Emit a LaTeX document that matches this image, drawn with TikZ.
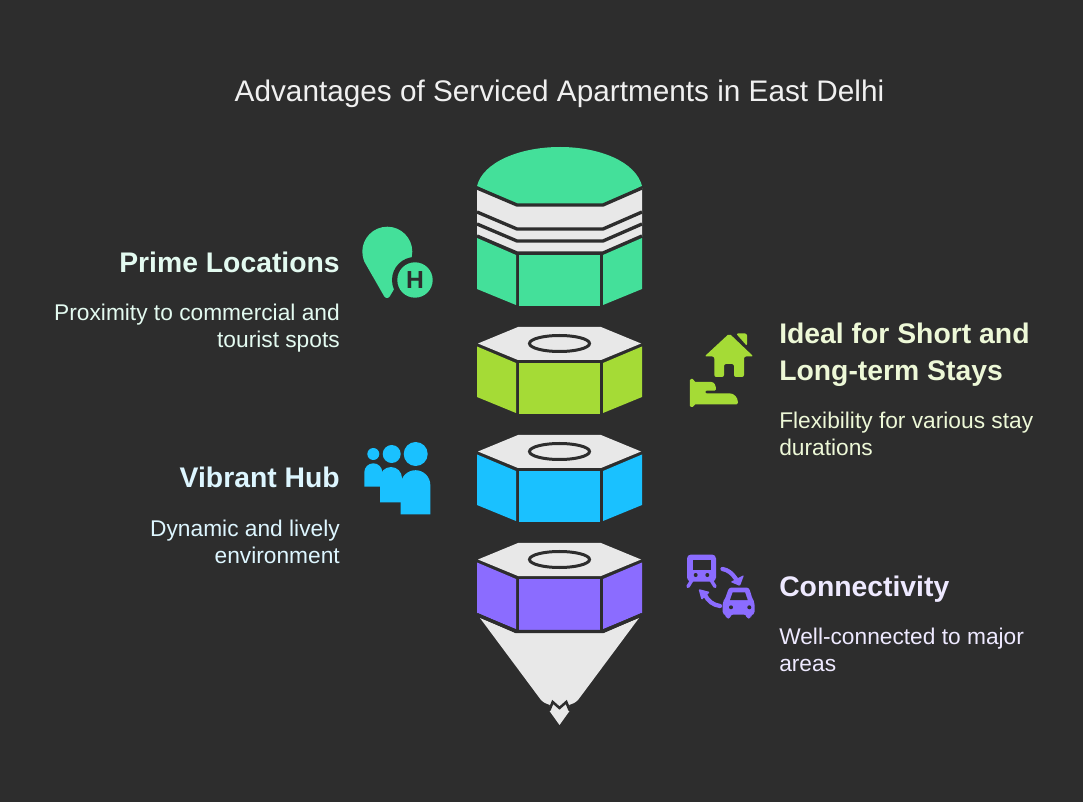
\documentclass[tikz,border=0pt]{standalone}
\usepackage{xcolor}
\usepackage{fontspec}
\setmainfont{Liberation Sans}
\usetikzlibrary{positioning}
\definecolor{slate}{RGB}{45,45,45}
\definecolor{paper}{RGB}{232,232,232}
\definecolor{mint}{RGB}{68,224,154}
\definecolor{lime}{RGB}{165,219,54}
\definecolor{sky}{RGB}{26,193,255}
\definecolor{violet}{RGB}{139,108,255}
\tikzset{
  edge/.style={draw=slate,line width=2.5pt,line join=miter},
  ring/.style={draw=slate,line width=2.25pt},
  titletext/.style={inner sep=0pt,text=white!94!black,font=\fontsize{22.3}{25}\selectfont},
  heading/.style={inner sep=0pt,align=#1,font=\fontsize{21.25}{27.75}\selectfont\bfseries},
  blurb/.style={inner sep=0pt,align=#1,font=\fontsize{17.05}{20.25}\selectfont}
}
\begin{document}
\begin{tikzpicture}[x=0.75pt,y=0.75pt,yscale=-1]
%Shape: Rectangle [background]
\fill [slate] (0,0) rectangle (1083,802);

%Shape: Polygon [dome]
\fill [mint] (477,186) .. controls (483,162) and (520,147) .. (560,147) .. controls (600,147) and (636,162) .. (642,186) -- (603,205) -- (517,205) -- cycle ;
%Shape: Polygon [bands]
\fill [paper] (477,188) -- (517,205) -- (603,205) -- (642,188) -- (642,237) -- (603,253) -- (517,253) -- (477,237) -- cycle ;
\draw [edge] (477,188) -- (517,205) -- (603,205) -- (642,188) ;
\draw [edge] (477,212) -- (517,229) -- (603,229) -- (642,212) ;
\draw [edge] (477,224) -- (517,241) -- (603,241) -- (642,224) ;
\draw [edge] (477,236) -- (517,253) -- (603,253) -- (642,236) ;
%Shape: Polygon [first body]
\fill [mint] (477,238) -- (516,255) -- (516,305) -- (477,289) -- cycle ;
\fill [mint] (519,255) rectangle (600,306) ;
\fill [mint] (642,238) -- (603,255) -- (603,305) -- (642,289) -- cycle ;

%Shape: Polygon [second nut]
\fill [paper] (518,327) -- (601,327) -- (641,343.5) -- (601,360) -- (518,360) -- (478,343.5) -- cycle ;
\draw [ring] (559.5,343.5) ellipse (30 and 8) ;
\fill [lime] (477,346.5) -- (516,363) -- (516,413) -- (477,397) -- cycle ;
\fill [lime] (519,363) rectangle (600,414) ;
\fill [lime] (642,346.5) -- (603,363) -- (603,413) -- (642,397) -- cycle ;

%Shape: Polygon [third nut]
\fill [paper] (518,435) -- (601,435) -- (641,451.5) -- (601,468) -- (518,468) -- (478,451.5) -- cycle ;
\draw [ring] (559.5,451.5) ellipse (30 and 8) ;
\fill [sky] (477,454.5) -- (516,471) -- (516,521) -- (477,505) -- cycle ;
\fill [sky] (519,471) rectangle (600,522) ;
\fill [sky] (642,454.5) -- (603,471) -- (603,521) -- (642,505) -- cycle ;

%Shape: Polygon [tip]
\fill [paper] (480,618) -- (516,633) -- (603,633) -- (639,618) -- (578,700) .. controls (575,703) and (572,704) .. (569,705) -- (569.5,711) -- (559.5,725) -- (549.5,711) -- (550,705) .. controls (547,704) and (544,703) .. (541,700) -- cycle ;
\draw [edge,line width=1.9pt,line cap=round] (549.5,710) -- (552.7,702) -- (559.5,708) -- (566.3,702) -- (569.5,710) ;
%Shape: Polygon [fourth nut]
\fill [paper] (518,543) -- (601,543) -- (641,559.5) -- (601,576) -- (518,576) -- (478,559.5) -- cycle ;
\draw [ring] (559.5,559.5) ellipse (30 and 8) ;
\fill [violet] (477,562.5) -- (516,579) -- (516,629) -- (477,613) -- cycle ;
\fill [violet] (519,579) rectangle (600,630) ;
\fill [violet] (642,562.5) -- (603,579) -- (603,629) -- (642,613) -- cycle ;
\draw [edge] (477,614.5) -- (516,631.5) -- (603,631.5) -- (642,614.5) ;

%Shape: pin icon
\fill [mint] (387,298) .. controls (385.5,298) and (385,297.5) .. (384,296) -- (364.5,262) .. controls (363,258) and (362.3,255) .. (362.3,251.7) arc (180:360:25) .. controls (412.3,255) and (411.6,258) .. (410,262) -- (390,296) .. controls (389,297.5) and (388.5,298) .. (387,298) -- cycle ;
\fill [slate] (415,280) circle (23) ;
\fill [mint] (415,280) circle (17.7) ;
% Text Node
\node (hotelmark) [inner sep=0pt,text=slate,font=\fontsize{18.5}{18.5}\selectfont\bfseries] at (415,280) {H};

%Shape: house icon
\fill [lime,rounded corners=1.5pt] (729.3,333.5) -- (753.5,356.5) -- (744,356.5) -- (744,377) -- (734,377) -- (734,364) -- (724,364) -- (724,377) -- (714.3,377) -- (714.3,356.5) -- (704.5,356.5) -- cycle ;
\fill [lime,rounded corners=1.5pt] (736,333.5) -- (747,333.5) -- (747,346) -- cycle ;
\fill [lime,rounded corners=1pt] (689.8,379) -- (694,379) -- (694,382) -- (710,382) .. controls (714,382) and (716,385) .. (716,390.7) -- (705,390.7) -- (705,393.3) -- (728,393.3) .. controls (734,393.3) and (738,397) .. (738,404.3) -- (694,404.3) -- (694,407) -- (689.8,407) -- cycle ;

%Shape: people icon
\fill [sky] (373.3,454) circle (6) (391.7,454) circle (9) (415.7,454) circle (12) ;
\fill [sky] (364.3,486.7) -- (364.3,472.3) arc (180:360:9) -- (382.3,486.7) -- cycle ;
\fill [sky] (380,502.3) -- (380,478) arc (180:360:11) -- (402,502.3) -- cycle ;
\fill [sky] (400.7,514.3) -- (400.7,485) arc (180:360:14.8) -- (430.3,514.3) -- cycle ;

%Shape: train icon
\draw [violet,line width=2.6pt,line cap=round] (692,580) -- (688,586.5) (711,580) -- (715,586.5) ;
\fill [violet,rounded corners=3pt] (687,554.5) rectangle (716,581.5) ;
\fill [slate] (692.7,560) rectangle (710.7,570) ;
\fill [slate] (695.7,575) circle (2) (707.3,575) circle (2) ;
%Shape: swap arrows
\draw [violet,line width=3.2pt,line cap=round] (722.5,569) .. controls (728,570) and (732,573) .. (736,579) ;
\fill [violet,rounded corners=0.8pt] (744,575) -- (740,586) -- (730.5,582) -- cycle ;
\draw [violet,line width=3.2pt,line cap=round] (720,606) .. controls (713,605) and (708,601) .. (705,595) ;
\fill [violet,rounded corners=0.8pt] (698.5,589) -- (710,592) -- (701.5,600) -- cycle ;
%Shape: car icon
\fill [violet,rounded corners=2pt] (729,587.5) -- (749,587.5) -- (752.5,599) -- (754.5,602) -- (754.5,614.5) -- (751,614.5) -- (751,618.5) -- (746.5,618.5) -- (746.5,614.5) -- (730.5,614.5) -- (730.5,618.5) -- (726,618.5) -- (726,614.5) -- (722.7,614.5) -- (722.7,602) -- (725,599) -- cycle ;
\fill [slate] (732.7,592.3) -- (745,592.3) -- (747.7,600) -- (730,600) -- cycle ;
\fill [slate] (731,607.3) circle (2) (749.3,607.3) circle (2) ;

% Text Node
\node (charttitle) [titletext,anchor=base] at (559.5,102) {Advantages of Serviced Apartments in East Delhi};
% Text Node
\node (primehead) [heading=right,anchor=base east,text=mint!15!white] at (340,273) {Prime Locations};
% Text Node
\node (primetext) [blurb=right,anchor=north east,text=mint!15!white] at (340,303.5) {Proximity to commercial and\\tourist spots};
% Text Node
\node (vibranthead) [heading=right,anchor=base east,text=sky!15!white] at (340,488) {Vibrant Hub};
% Text Node
\node (vibranttext) [blurb=right,anchor=north east,text=sky!15!white] at (340,519.5) {Dynamic and lively\\environment};
% Text Node
\node (idealhead) [heading=left,anchor=north west,text=lime!20!white] at (779,323) {Ideal for Short and\\Long-term Stays};
% Text Node
\node (idealtext) [blurb=left,anchor=north west,text=lime!20!white] at (779,411.5) {Flexibility for various stay\\durations};
% Text Node
\node (linkhead) [heading=left,anchor=base west,text=violet!15!white] at (779,596) {Connectivity};
% Text Node
\node (linktext) [blurb=left,anchor=north west,text=violet!15!white] at (779,627.5) {Well-connected to major\\areas};

\end{tikzpicture}
\end{document}
